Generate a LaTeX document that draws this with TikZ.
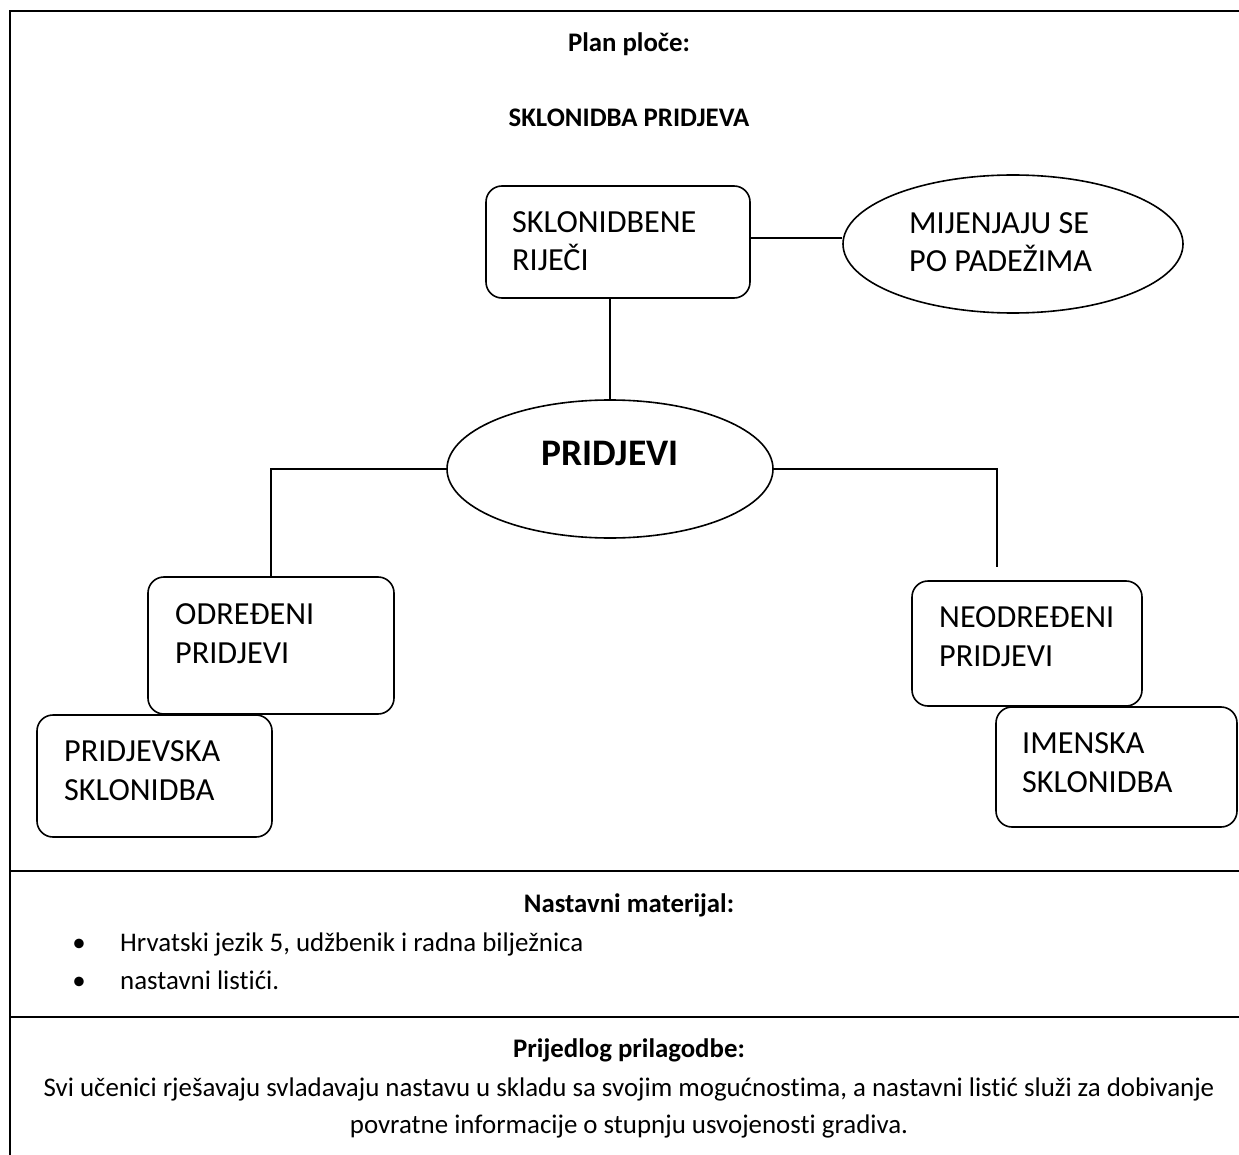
\documentclass[tikz,border=0pt]{standalone}
\usepackage{fontspec}
\setmainfont{Carlito}[Ligatures=NoCommon]
\usetikzlibrary{positioning, shapes.geometric}

\begin{document}
\begin{tikzpicture}[x=1pt, y=-1pt,
        okvir/.style={line width=2.4pt},
        kutija/.style={draw, rounded corners=16pt, line width=1.6pt, inner sep=0pt},
        elipsa/.style={draw, ellipse, line width=1.6pt, inner sep=0pt},
        veza/.style={line width=1.3pt},
        pojam/.style={inner sep=0pt, align=left, anchor=base west, font=\fontsize{32.2}{38.5}\selectfont},
        glava/.style={inner sep=0pt, anchor=base, font=\bfseries\fontsize{26.8}{32}\selectfont},
        tijelo/.style={inner sep=0pt, anchor=base, font=\fontsize{26.9}{32}\selectfont}]
        \useasboundingbox (0,0) rectangle (1239,1155);

        % okvir tablice
        \draw[okvir] (10,1155) -- (10,11) -- (1239,11);
        \draw[okvir] (10,871) -- (1239,871);
        \draw[okvir] (10,1017) -- (1239,1017);

        \node[glava] (plan) at (629,52) {Plan ploče:};
        \node[glava] (tema) at (629,127) {SKLONIDBA PRIDJEVA};

        % tekst pojma: sidro je na crti drugog retka
        \node[kutija, minimum width=264pt, minimum height=112pt] (rijeci) at (618,242) {};
        \node[pojam] (rijeciT) at (512,271) {SKLONIDBENE\\RIJEČI};

        \node[elipsa, minimum width=340pt, minimum height=138pt] (padezi) at (1013,244) {};
        \node[pojam] (padeziT) at (909,272) {MIJENJAJU SE\\PO PADEŽIMA};

        \node[elipsa, minimum width=326pt, minimum height=138pt] (pridjevi) at (610,469) {};
        \node[glava, font=\bfseries\fontsize{37.5}{44}\selectfont] (pridjeviT) at (610,465) {PRIDJEVI};

        \node[kutija, minimum width=246pt, minimum height=137pt] (odredeni) at (271,645.5) {};
        \node[pojam] (odredeniT) at (175,663) {ODREĐENI\\PRIDJEVI};
        \node[kutija, minimum width=235pt, minimum height=122pt] (pridjevska) at (154.5,776) {};
        \node[pojam] (pridjevskaT) at (64,800) {PRIDJEVSKA\\SKLONIDBA};

        \node[kutija, minimum width=230pt, minimum height=125pt] (neodredeni) at (1027,643.5) {};
        \node[pojam] (neodredeniT) at (939,666) {NEODREĐENI\\PRIDJEVI};
        \node[kutija, minimum width=241pt, minimum height=120pt] (imenska) at (1116.5,767) {};
        \node[pojam] (imenskaT) at (1022,792) {IMENSKA\\SKLONIDBA};

        % veze
        \draw[veza] ([yshift=4pt]rijeci.east) -- ([yshift=4pt]rijeci.east -| padezi.west);
        \draw[veza] (pridjevi.north) -- (pridjevi.north |- rijeci.south);
        \draw[veza] (pridjevi.west) -| (odredeni.north);
        \coordinate (desno) at (997,567);
        \draw[veza] (pridjevi.east) -| (desno);

        \node[glava] (materijal) at (629,912) {Nastavni materijal:};
        \foreach \y in {951, 989}{
                \node[tijelo] (tocka\y) at (79,\y) {•};
            }
        \node[tijelo, anchor=base west] (udzbenik) at (120,951) {Hrvatski jezik 5, udžbenik i radna bilježnica};
        \node[tijelo, anchor=base west] (listici) at (120,989) {nastavni listići.};

        \node[glava] (prijedlog) at (629,1057) {Prijedlog prilagodbe:};
        \node[tijelo] (opis1) at (629,1096) {Svi učenici rješavaju svladavaju nastavu u skladu sa svojim mogućnostima, a nastavni listić služi za dobivanje};
        \node[tijelo] (opis2) at (629,1133) {povratne informacije o stupnju usvojenosti gradiva.};
    \end{tikzpicture}
\end{document}
